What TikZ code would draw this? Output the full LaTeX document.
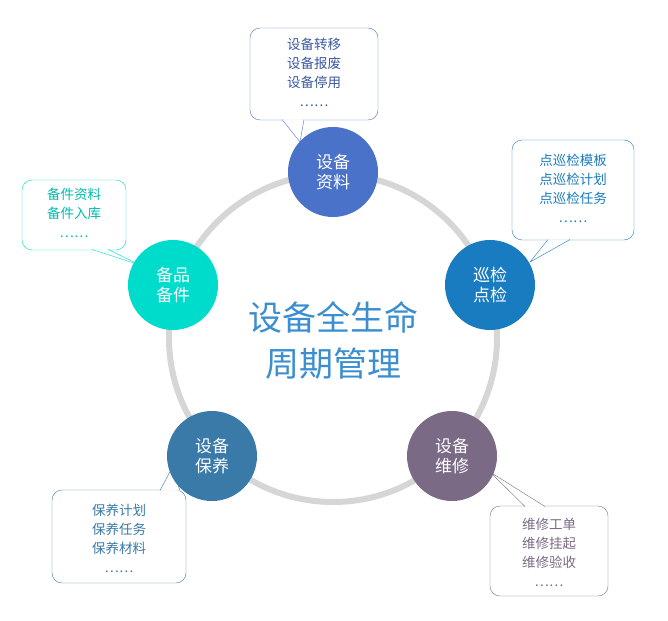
\documentclass[tikz,border=0pt]{standalone}
\usepackage{fontspec}
\setmainfont{Noto Sans CJK SC}
\begin{document}
\begin{tikzpicture}[x=1pt,y=-1pt,
  circ/.style={circle,minimum size=90pt,inner sep=0pt,text=white,font=\fontsize{17}{20}\selectfont,align=center},
  btxt/.style={align=center,font=\fontsize{13.5}{19}\selectfont}]
\useasboundingbox (0,0) rectangle (668,620);
\definecolor{cA}{HTML}{4A72C8}\definecolor{cB}{HTML}{1A7CC0}
\definecolor{cC}{HTML}{7A6A86}\definecolor{cD}{HTML}{3A7AA8}
\definecolor{cE}{HTML}{00DCCB}\definecolor{cT}{HTML}{3B8ED0}
\draw[line width=6pt,color=black!16] (333,338) circle (164);
% callout macro
\newcommand\callout[8]{% x1,y1,x2,y2, tail a, tail tip, tail b, color
  \draw[#8,fill=white,rounded corners=10pt] (#1,#2) rectangle (#3,#4);
  \fill[white] #5 -- #6 -- #7 -- cycle;
  \draw[#8] #5 -- #6 -- #7;}
\callout{250}{28}{378}{120}{(282,119.5)}{(300,142)}{(304,119.5)}{cA}
\node[btxt,text=cA!80!black] (t1) at (314,72) {设备转移\\设备报废\\设备停用\\……};
\callout{512}{140}{634}{240}{(548,239.5)}{(530,262)}{(570,239.5)}{cB}
\node[btxt,text=cB] (t2) at (573,188) {点巡检模板\\点巡检计划\\点巡检任务\\……};
\callout{22}{180}{126}{250}{(92,249.5)}{(140,265)}{(108,249.5)}{cE}
\node[btxt,text=cE!85!black] (t3) at (74,213) {备件资料\\备件入库\\……};
\callout{52}{490}{186}{583}{(160,490.5)}{(172,468)}{(180,490.5)}{cD}
\node[btxt,text=cD] (t4) at (119,538) {保养计划\\保养任务\\保养材料\\……};
\callout{490}{506}{608}{596}{(525,506.5)}{(490,472)}{(545,506.5)}{cC}
\node[btxt,text=cC] (t5) at (549,552) {维修工单\\维修挂起\\维修验收\\……};
\node[circ,fill=cA] (a) at (333,172) {设备\\资料};
\node[circ,fill=cB] (b) at (490,285) {巡检\\点检};
\node[circ,fill=cC] (c) at (452,456) {设备\\维修};
\node[circ,fill=cD] (d) at (212,456) {设备\\保养};
\node[circ,fill=cE] (e) at (173,285) {备品\\备件};
\node[text=cT,align=center,font=\fontsize{34}{46}\selectfont] (m) at (333,340) {设备全生命\\周期管理};
\end{tikzpicture}
\end{document}
